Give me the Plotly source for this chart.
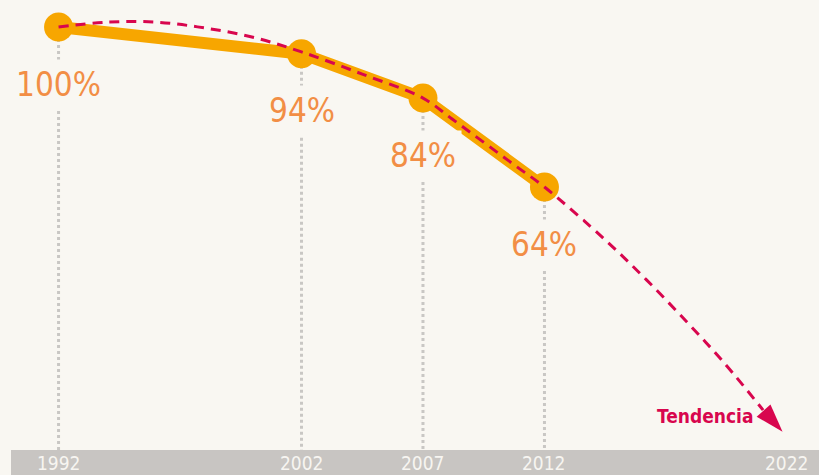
import plotly.graph_objects as go

# Data
years = [1992, 2002, 2007, 2012]
values = [100, 94, 84, 64]
value_labels = ["100%", "94%", "84%", "64%"]
tick_years = [1992, 2002, 2007, 2012, 2022]
tick_labels = ["1992", "2002", "2007", "2012", "2022"]

trend_years = [1992, 1994, 1996, 1998, 2000, 2002, 2004.5, 2007, 2008.2, 2010.8, 2012,
               2014.5, 2016.2, 2017.9, 2019.4, 2021.0, 2021.8]
trend_values = [100, 101.1, 101.1, 99.8, 97.7, 94.4, 89.4, 84.0, 79.3, 68.8, 64.0,
                52.1, 43.1, 33.4, 24.4, 13.8, 8.9]

BG = "#f9f7f2"
BAND = "#c8c5c2"
ORANGE = "#f7a600"
LABEL = "#f28e45"
RED = "#d8064e"
FONT = "Liberation Sans Narrow, DejaVu Sans Condensed, sans-serif"

W, H = 819, 475
x_range = [1989.59, 2023.30]
y_range = [-0.81, 106.08]
band_frac = 25 / H
y_band_top = y_range[0] + band_frac * (y_range[1] - y_range[0])

fig = go.Figure()

# dotted guide lines
for yr, v in zip(years, values):
    fig.add_trace(go.Scatter(x=[yr, yr], y=[v, y_band_top], mode="lines",
                             line=dict(color="#c9c7c4", width=3, dash="dot"),
                             hoverinfo="skip", showlegend=False))

# main line
fig.add_trace(go.Scatter(x=years, y=values, mode="lines+markers",
                         line=dict(color=ORANGE, width=12),
                         marker=dict(size=29, color=ORANGE),
                         showlegend=False))

# trend
fig.add_trace(go.Scatter(x=trend_years[:-1], y=trend_values[:-1], mode="lines",
                         line=dict(color=RED, width=3, dash="10px,7px", shape="spline"),
                         showlegend=False, hoverinfo="skip"))
fig.add_trace(go.Scatter(x=trend_years[-2:], y=trend_values[-2:], mode="markers",
                         marker=dict(symbol="arrow", angleref="previous",
                                     size=[0, 30], color=RED, opacity=1,
                                     line=dict(width=0)),
                         showlegend=False, hoverinfo="skip"))

# band
fig.add_shape(type="rect", xref="paper", yref="paper", x0=11 / W, x1=1,
              y0=0, y1=band_frac, fillcolor=BAND, line=dict(width=0), layer="below")

# value labels
for yr, v, t in zip(years, values, value_labels):
    fig.add_annotation(x=yr, y=v, text=t, showarrow=False, yshift=-57,
                       font=dict(family=FONT, size=33, color=LABEL),
                       bgcolor=BG, borderpad=5)

# tick labels
for yr, t in zip(tick_years, tick_labels):
    fig.add_annotation(x=yr, xref="x", y=(H - 463) / H, yref="paper", text=t,
                       showarrow=False, yanchor="middle", xanchor="center",
                       font=dict(family=FONT, size=19, color="#f7f5f1"))

fig.add_annotation(x=705 / W, xref="paper", y=(H - 416) / H, yref="paper",
                   text="<b>Tendencia</b>", showarrow=False,
                   xanchor="center", yanchor="middle",
                   font=dict(family=FONT, size=19, color=RED))

fig.update_layout(width=W, height=H, margin=dict(l=0, r=0, t=0, b=0),
                  paper_bgcolor=BG, plot_bgcolor=BG,
                  xaxis=dict(range=x_range, visible=False, fixedrange=True),
                  yaxis=dict(range=y_range, visible=False, fixedrange=True))

fig.write_html("out.html", config={"displayModeBar": False},
               post_script="document.body.style.margin='0';"
                           "document.body.style.background='#f9f7f2';")
